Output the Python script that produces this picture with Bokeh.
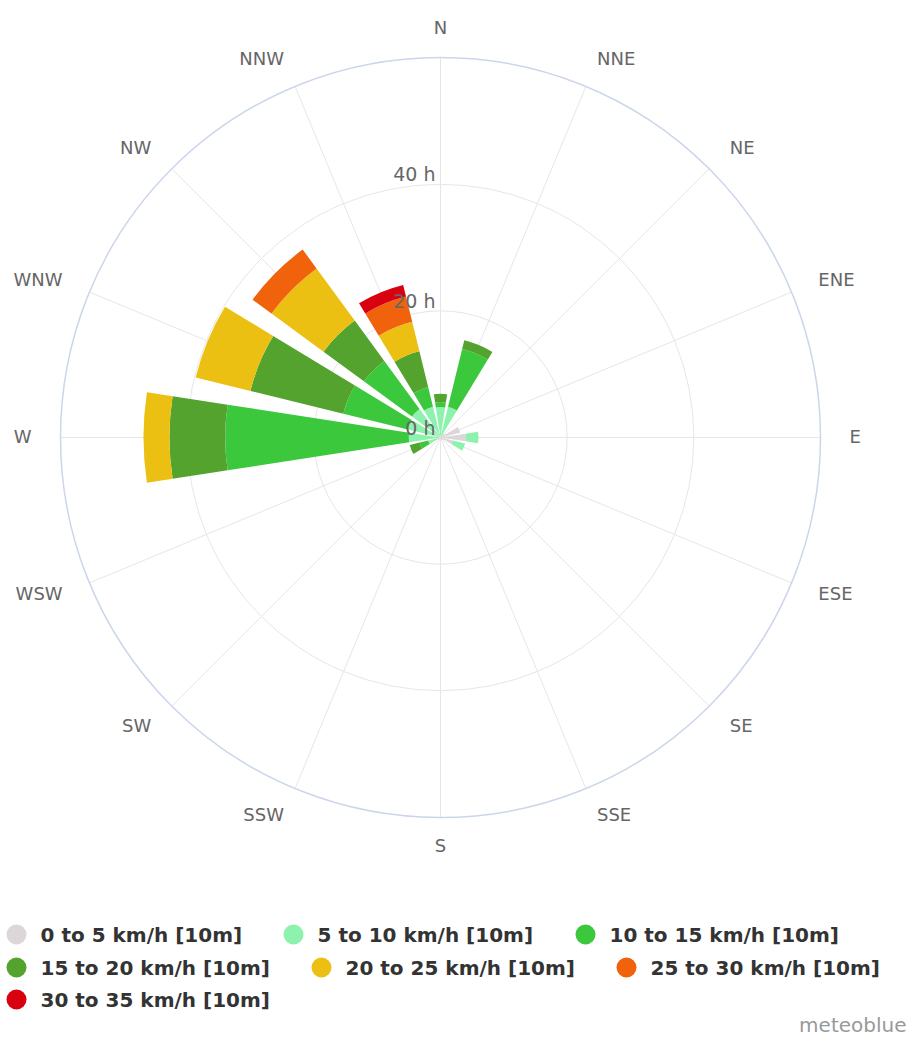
import numpy as np
from bokeh.plotting import figure
from bokeh.layouts import column
from bokeh.models import Range1d
from bokeh.core.properties import value
from bokeh.embed import file_html
from bokeh.resources import INLINE

# ---------------- data ----------------
directions = ["N", "NNE", "NE", "ENE", "E", "ESE", "SE", "SSE",
              "S", "SSW", "SW", "WSW", "W", "WNW", "NW", "NNW"]
speed_classes = ["0 to 5 km/h [10m]", "5 to 10 km/h [10m]", "10 to 15 km/h [10m]",
                 "15 to 20 km/h [10m]", "20 to 25 km/h [10m]", "25 to 30 km/h [10m]",
                 "30 to 35 km/h [10m]"]
#            N    NNE  NE   ENE  E    ESE  SE   SSE  S    SSW  SW   WSW  W     WNW   NW    NNW
h_0_5   = [0.3, 0.3, 0.5, 3.2, 4.0, 2.0, 0.5, 0.4, 0.3, 0.3, 0.3, 0.5, 0.3,  0.3,  0.3,  0.3]
h_5_10  = [4.5, 4.7, 0.3, 0.0, 2.0, 2.0, 0.0, 0.0, 0.0, 0.0, 0.0, 1.5, 4.7,  5.0,  5.3,  4.7]
h_10_15 = [0.8, 9.4, 0.0, 0.0, 0.0, 0.0, 0.0, 0.0, 0.0, 0.0, 0.0, 1.4, 29.0, 10.5, 9.4,  3.2]
h_15_20 = [1.3, 1.4, 0.0, 0.0, 0.0, 0.0, 0.0, 0.0, 0.0, 0.0, 0.0, 1.6, 8.8,  15.1, 7.9,  5.8]
h_20_25 = [0.0, 0.0, 0.0, 0.0, 0.0, 0.0, 0.0, 0.0, 0.0, 0.0, 0.0, 0.0, 4.1,  8.9,  10.2, 4.8]
h_25_30 = [0.0, 0.0, 0.0, 0.0, 0.0, 0.0, 0.0, 0.0, 0.0, 0.0, 0.0, 0.0, 0.0,  0.0,  3.7,  4.1]
h_30_35 = [0.0, 0.0, 0.0, 0.0, 0.0, 0.0, 0.0, 0.0, 0.0, 0.0, 0.0, 0.0, 0.0,  0.0,  0.0,  1.9]
series = [h_0_5, h_5_10, h_10_15, h_15_20, h_20_25, h_25_30, h_30_35]

radial_ticks = [0, 20, 40]
radial_tick_labels = ["0 h", "20 h", "40 h"]
radial_max = 60

# ---------------- styles ----------------
colors = ["#dcd6d8", "#8cf2ad", "#3cc83c", "#53a32e", "#ecc012", "#f0620c", "#d9000f"]
FONT = value("DejaVu Sans")
PX = 380 / radial_max           # pixels per hour
W1, H1 = 911, 868
CX, CY = 440, 437                # centre in figure pixels
HALF = 8.75                      # half bar width, degrees

p = figure(width=W1, height=H1,
           x_range=Range1d(-CX / PX, (W1 - CX) / PX),
           y_range=Range1d(-(H1 - CY) / PX, CY / PX),
           x_axis_type=None, y_axis_type=None,
           toolbar_location=None, output_backend="svg",
           min_border=0, outline_line_color=None)
p.background_fill_color = "white"
p.border_fill_color = "white"

comp = np.arange(len(directions)) * 22.5
theta = np.deg2rad(comp)

# spokes
p.segment(x0=np.zeros(16), y0=np.zeros(16),
          x1=radial_max * np.sin(theta), y1=radial_max * np.cos(theta),
          line_color="#e6e6e6", line_width=1)
# grid circles
p.circle(x=[0, 0], y=[0, 0], radius=radial_ticks[1:], fill_color=None,
         line_color="#e6e6e6", line_width=1)
p.circle(x=[0], y=[0], radius=[radial_max], fill_color=None,
         line_color="#ccd6eb", line_width=1.5)

# stacked bars
bottom = np.zeros(16)
start = np.deg2rad(90 - comp - HALF)
end = np.deg2rad(90 - comp + HALF)
for vals, col in zip(series, colors):
    v = np.array(vals, dtype=float)
    p.annular_wedge(x=np.zeros(16), y=np.zeros(16),
                    inner_radius=bottom, outer_radius=bottom + v,
                    start_angle=start, end_angle=end,
                    fill_color=col, line_color=None)
    bottom = bottom + v

# radial labels
p.text(x=[0] * len(radial_ticks), y=radial_ticks, text=radial_tick_labels,
       text_align="right", text_baseline="middle", x_offset=-5, y_offset=-10,
       text_font=FONT, text_font_size="19px", text_color="#666666")

# direction labels
r_lab = 409 / PX
aligns = []
for d in comp:
    if d == 0 or d == 180:
        aligns.append("center")
    elif d < 180:
        aligns.append("left")
    else:
        aligns.append("right")
p.text(x=r_lab * np.sin(theta), y=r_lab * np.cos(theta), text=directions,
       text_align=aligns, text_baseline="middle", y_offset=-1,
       text_font=FONT, text_font_size="18px", text_color="#666666")

# ---------------- legend ----------------
W2, H2 = 911, 168
q = figure(width=W2, height=H2, x_range=Range1d(0, W2), y_range=Range1d(H2, 0),
           x_axis_type=None, y_axis_type=None, toolbar_location=None,
           output_backend="svg", min_border=0, outline_line_color=None)
q.background_fill_color = "white"
q.border_fill_color = "white"

text_x = [40, 317, 609, 40, 345, 650, 40]
row_y = [66, 66, 66, 99, 99, 99, 131]
q.scatter(x=[t - 24 for t in text_x], y=row_y, marker="circle", size=20,
          fill_color=colors, line_color=None)
q.text(x=text_x, y=row_y, text=speed_classes, text_align="left",
       text_baseline="middle", text_font=FONT, text_font_style="bold",
       text_font_size="20px", text_color="#333333")
q.text(x=[906], y=[156], text=["meteoblue"], text_align="right",
       text_baseline="middle", text_font=FONT, text_font_size="20px",
       text_color="#999999")

layout = column(p, q, spacing=0)
open("out.html", "w").write(file_html(layout, INLINE))
